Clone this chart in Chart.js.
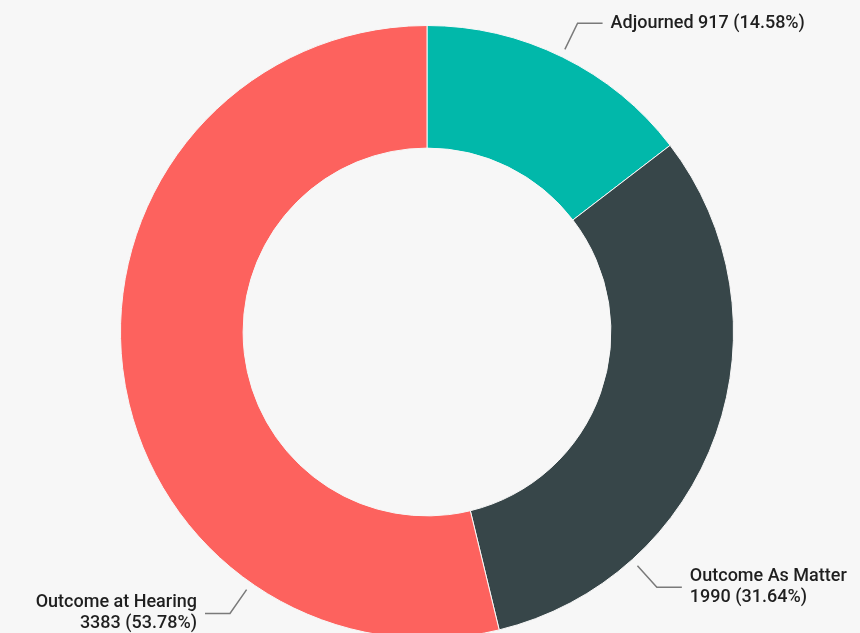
<!DOCTYPE html>
<html>
<head>
<meta charset="utf-8">
<script src="https://cdn.jsdelivr.net/npm/chart.js@4"></script>
<style>
  html, body { margin: 0; padding: 0; background: #f7f7f7; overflow: hidden; }
  canvas { display: block; }
</style>
</head>
<body>
<canvas id="chart" width="860" height="660"></canvas>
<script>
const categories = ["Adjourned", "Outcome As Matter", "Outcome at Hearing"];
const counts = [917, 1990, 3383];
const percents = ["14.58%", "31.64%", "53.78%"];
const colors = ["#01B8AA", "#374649", "#FD625E"];

// where each leader line leaves the ring (degrees clockwise from top)
const leaderAngles = [26, 138, 215];

const leaderLabels = {
  id: "leaderLabels",
  afterDatasetsDraw(chart) {
    const ctx = chart.ctx;
    const arcs = chart.getDatasetMeta(0).data;
    ctx.save();
    ctx.font = "500 18px Roboto";
    ctx.fillStyle = "#1f1f1f";
    ctx.strokeStyle = "#7a7a7a";
    ctx.lineWidth = 1.5;
    ctx.textBaseline = "middle";
    arcs.forEach((arc, i) => {
      const a = leaderAngles[i] * Math.PI / 180;
      const r1 = arc.outerRadius + 8, r2 = arc.outerRadius + 37;
      const x1 = arc.x + r1 * Math.sin(a), y1 = arc.y - r1 * Math.cos(a);
      const x2 = arc.x + r2 * Math.sin(a), y2 = arc.y - r2 * Math.cos(a);
      const dir = Math.sin(a) >= 0 ? 1 : -1;
      const x3 = x2 + dir * 25;
      ctx.beginPath();
      ctx.moveTo(x1, y1);
      ctx.lineTo(x2, y2);
      ctx.lineTo(x3, y2);
      ctx.stroke();
      ctx.textAlign = dir > 0 ? "left" : "right";
      const tx = x3 + dir * 8;
      if (i === 0) {
        ctx.fillText(categories[i] + " " + counts[i] + " (" + percents[i] + ")", tx, y2);
      } else {
        ctx.fillText(categories[i], tx, y2 - 10.5);
        ctx.fillText(counts[i] + " (" + percents[i] + ")", tx, y2 + 10.5);
      }
    });
    ctx.restore();
  }
};

new Chart(document.getElementById("chart"), {
  type: "doughnut",
  data: {
    labels: categories,
    datasets: [{
      data: counts,
      backgroundColor: colors,
      borderColor: "#f7f7f7",
      borderWidth: 1
    }]
  },
  options: {
    responsive: false,
    animation: false,
    cutout: "60%",
    layout: { padding: { left: 120, right: 126, top: 25, bottom: 21 } },
    plugins: {
      legend: { display: false },
      tooltip: { enabled: false }
    }
  },
  plugins: [leaderLabels]
});
</script>
</body>
</html>
